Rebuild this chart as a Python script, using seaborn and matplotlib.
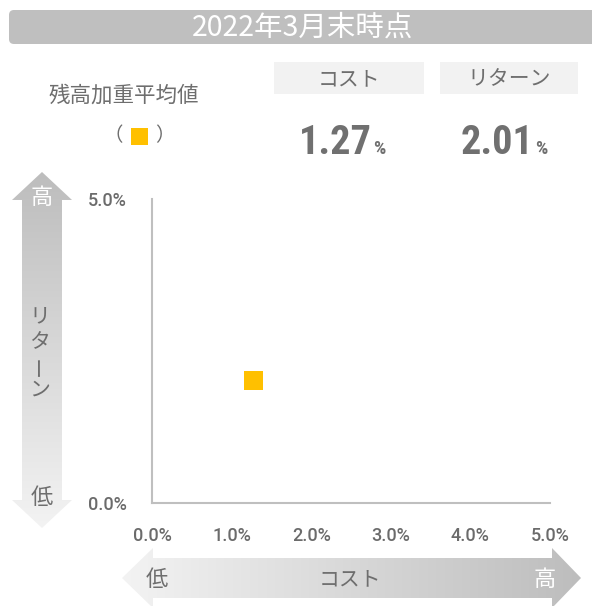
import numpy as np
import matplotlib
matplotlib.use("Agg")
import matplotlib.pyplot as plt
from matplotlib.patches import Polygon, FancyBboxPatch, Rectangle
from matplotlib import font_manager
import seaborn as sns
import pandas as pd

# ---- data ----
series_name = ["残高加重平均値"]
cost_values = [1.27]
return_values = [2.01]
tick_values = [0.0, 1.0, 2.0, 3.0, 4.0, 5.0]
tick_labels = ["0.0%", "1.0%", "2.0%", "3.0%", "4.0%", "5.0%"]
y_tick_values = [0.0, 5.0]
y_tick_labels = ["0.0%", "5.0%"]
title_text = "2022年3月末時点"
header_labels = ["コスト", "リターン"]

sns.set_theme(style="white")
plt.rcParams['font.family'] = ['Noto Sans CJK JP', 'DejaVu Sans']

names = {f.name for f in font_manager.fontManager.ttflist}
cond = [n for n in ['Roboto Condensed', 'Liberation Sans Narrow', 'DejaVu Sans Condensed'] if n in names]
NUM_FONT = cond + ['Roboto', 'DejaVu Sans']
TICK_FONT = ['Roboto', 'DejaVu Sans']

W, H = 592, 606
fig = plt.figure(figsize=(W / 100, H / 100), dpi=100)

deco = fig.add_axes([0, 0, 1, 1])
deco.set_xlim(0, W)
deco.set_ylim(H, 0)
deco.axis("off")

GREY_TXT = "#6e6e6e"

# title bar
deco.add_patch(FancyBboxPatch((9, 10), 590, 34, boxstyle="round,pad=0,rounding_size=5",
                              fc="#bfbfbf", ec="none"))
deco.text(303, 28, title_text, color="white", fontsize=20.5, ha="center", va="center")

# left legend label
deco.text(124, 96, series_name[0], color=GREY_TXT, fontsize=15.5, ha="center", va="center")
deco.text(113, 136, "（", color=GREY_TXT, fontsize=14, ha="center", va="center")
deco.text(165, 136, "）", color=GREY_TXT, fontsize=14, ha="center", va="center")
deco.add_patch(Rectangle((131, 128), 17, 17, fc="#ffc000", ec="none"))

# header boxes
for (x0, x1), lab in zip([(274, 424), (440, 578)], header_labels):
    deco.add_patch(Rectangle((x0, 62), x1 - x0, 32, fc="#f2f2f2", ec="none"))
    deco.text((x0 + x1) / 2, 79, lab, color=GREY_TXT, fontsize=15, ha="center", va="center")

# big values
for right, v in zip([372, 534], [cost_values[0], return_values[0]]):
    deco.text(right, 154, f"{v:.2f}", color="#707070", fontsize=29, fontweight="bold",
              ha="right", va="baseline", family=NUM_FONT, fontstretch="condensed")
    deco.text(right + 1, 154, "%", color="#707070", fontsize=14, fontweight="bold",
              ha="left", va="baseline", family=NUM_FONT, fontstretch="condensed")


def gradient_arrow(poly, extent, direction, c_start, c_end):
    c0 = np.array(matplotlib.colors.to_rgb(c_start))
    c1 = np.array(matplotlib.colors.to_rgb(c_end))
    t = np.linspace(0, 1, 256)
    cols = c0[None, :] * (1 - t[:, None]) + c1[None, :] * t[:, None]
    img = cols[:, None, :] if direction == "v" else cols[None, :, :]
    patch = Polygon(poly, closed=True, fc="none", ec="none")
    deco.add_patch(patch)
    im = deco.imshow(img, extent=extent, aspect="auto", origin="upper", zorder=0.5,
                     interpolation="bilinear")
    im.set_clip_path(patch)


# vertical arrow (return)
vpoly = [(42, 172), (72, 200), (62, 200), (62, 500), (72, 500), (42, 528),
         (12, 500), (22, 500), (22, 200), (12, 200)]
gradient_arrow(vpoly, (12, 72, 528, 172), "v", "#bdbdbd", "#f3f3f3")
deco.set_xlim(0, W)
deco.set_ylim(H, 0)
deco.text(42, 198, "高", color="white", fontsize=16, ha="center", va="center")
deco.text(42, 497, "低", color=GREY_TXT, fontsize=16, ha="center", va="center")
vchars = ["リ", "タ", "ー", "ン"]
vy = [316, 342, 366, 390]
for ch, yy in zip(vchars, vy):
    deco.text(40, yy, ch, color=GREY_TXT, fontsize=15, ha="center", va="center",
              rotation=90 if ch == "ー" else 0)

# horizontal arrow (cost)
hpoly = [(122, 578), (153, 548), (153, 558), (552, 558), (552, 548), (581, 578),
         (552, 608), (552, 598), (153, 598), (153, 608)]
gradient_arrow(hpoly, (122, 581, 608, 548), "h", "#f3f3f3", "#bdbdbd")
deco.set_xlim(0, W)
deco.set_ylim(H, 0)
deco.text(157, 579, "低", color=GREY_TXT, fontsize=16, ha="center", va="center")
deco.text(350, 579, "コスト", color=GREY_TXT, fontsize=15, ha="center", va="center")
deco.text(545, 579, "高", color="white", fontsize=16, ha="center", va="center")

# main scatter axes
x0, x1, yt, yb = 152, 550, 199, 503
ax = fig.add_axes([x0 / W, (H - yb) / H, (x1 - x0) / W, (yb - yt) / H])
df = pd.DataFrame({"cost": cost_values, "ret": return_values, "name": series_name})
sns.scatterplot(data=df, x="cost", y="ret", ax=ax, marker="s", s=190,
                color="#ffc000", edgecolor="none", legend=False, clip_on=False)
ax.set_xlim(0, 5)
ax.set_ylim(0, 5)
ax.set_xticks(tick_values)
ax.set_xticklabels(tick_labels)
ax.set_yticks(y_tick_values)
ax.set_yticklabels(y_tick_labels)
for lab in ax.get_xticklabels() + ax.get_yticklabels():
    lab.set_family(TICK_FONT)
    lab.set_fontsize(13)
    lab.set_fontweight("medium")
    lab.set_color("#6b6b6b")
ax.tick_params(axis="x", length=0, pad=17)
ax.tick_params(axis="y", length=0, pad=18)
ax.set_xlabel("")
ax.set_ylabel("")
for s in ["top", "right"]:
    ax.spines[s].set_visible(False)
for s in ["left", "bottom"]:
    ax.spines[s].set_color("#bfbfbf")
    ax.spines[s].set_linewidth(1.5)
ax.set_facecolor("none")
ax.grid(False)

fig.savefig("out.png", dpi=100)
